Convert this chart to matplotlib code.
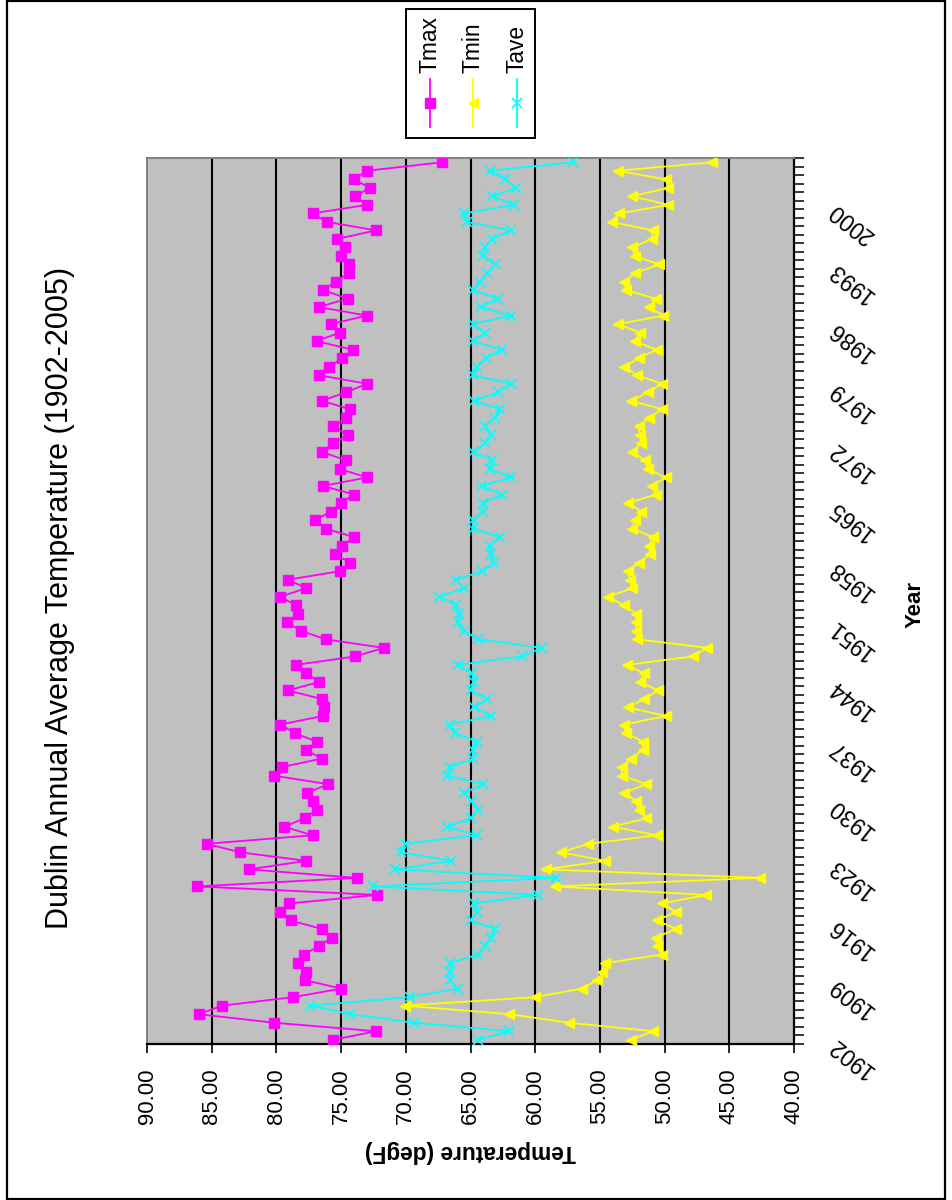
import matplotlib
matplotlib.use("Agg")
import matplotlib.pyplot as plt
from matplotlib import font_manager
from matplotlib.patches import Rectangle
from matplotlib.lines import Line2D
import matplotlib.transforms as mtransforms

# datos (1902-2005)
years = list(range(1902, 2006))

tmax = [75.6, 72.3, 80.2, 86.0, 84.2, 78.7, 75.0, 77.8, 77.7, 78.3,
        77.9, 76.7, 75.7, 76.5, 78.9, 79.7, 79.0, 72.2, 86.1, 73.8,
        82.1, 77.7, 82.8, 85.4, 77.2, 79.4, 77.8, 76.9, 77.2, 77.6,
        76.0, 80.2, 79.6, 76.5, 77.7, 76.9, 78.6, 79.7, 76.4, 76.3,
        76.5, 79.1, 76.7, 77.7, 78.5, 73.9, 71.7, 76.2, 78.1, 79.2,
        78.3, 78.5, 79.7, 77.7, 79.1, 75.1, 74.3, 75.5, 74.9, 74.0,
        76.2, 77.0, 75.8, 75.0, 74.0, 76.4, 73.0, 75.1, 74.6, 76.5,
        75.6, 74.5, 75.6, 74.6, 74.3, 76.5, 74.6, 73.0, 76.7, 75.9,
        74.9, 74.1, 76.9, 75.1, 75.8, 73.0, 76.7, 74.5, 76.4, 75.4,
        74.4, 74.4, 75.0, 74.7, 75.3, 72.3, 76.1, 77.2, 73.0, 73.9,
        72.8, 74.0, 73.0, 67.2]

tmin = [52.6, 50.9, 57.4, 62.0, 70.1, 60.0, 56.4, 55.2, 54.8, 54.6,
        50.2, 50.6, 50.7, 49.1, 50.6, 49.1, 50.2, 46.8, 58.5, 42.6,
        59.2, 54.6, 58.0, 55.9, 50.6, 54.0, 51.4, 52.0, 52.2, 53.1,
        51.4, 53.3, 53.3, 52.6, 51.7, 51.7, 53.0, 53.1, 49.9, 52.8,
        51.6, 50.5, 51.9, 51.6, 52.9, 47.8, 46.7, 52.1, 52.2, 52.2,
        52.2, 53.1, 54.4, 52.5, 52.7, 52.8, 52.0, 51.1, 51.2, 50.9,
        52.5, 52.3, 51.8, 52.8, 50.7, 51.0, 49.9, 51.3, 51.5, 52.5,
        51.8, 51.9, 52.0, 51.2, 50.2, 52.6, 51.3, 50.2, 52.1, 53.1,
        52.0, 50.6, 52.3, 51.9, 53.6, 50.1, 51.2, 50.7, 53.0, 53.1,
        52.3, 50.4, 52.3, 52.5, 51.0, 50.9, 54.1, 53.5, 49.7, 52.5,
        49.7, 49.9, 53.6, 46.3]

tave = [64.4, 62.0, 69.4, 74.3, 77.4, 69.7, 66.0, 66.6, 66.6, 66.6,
        64.4, 63.9, 63.4, 63.1, 65.0, 64.5, 64.7, 59.8, 72.5, 58.4,
        70.8, 66.5, 70.4, 70.1, 64.5, 66.8, 65.0, 64.4, 64.9, 65.5,
        64.0, 66.8, 66.6, 64.8, 64.8, 64.5, 66.2, 66.6, 63.4, 64.7,
        63.7, 65.0, 64.7, 64.9, 66.0, 61.0, 59.5, 64.4, 65.5, 66.0,
        65.9, 66.1, 67.4, 65.5, 66.1, 64.1, 63.2, 63.4, 63.5, 62.7,
        64.8, 64.8, 64.0, 64.0, 62.6, 64.1, 61.9, 63.5, 63.3, 64.8,
        63.9, 63.4, 63.9, 63.1, 62.7, 64.7, 62.9, 61.9, 64.8, 64.5,
        63.8, 62.6, 64.8, 63.9, 64.8, 61.9, 64.2, 62.9, 64.8, 64.3,
        63.7, 63.1, 64.0, 63.9, 63.3, 61.9, 65.3, 65.5, 61.6, 63.3,
        61.5, 62.3, 63.5, 57.1]

temp_ticks = [90, 85, 80, 75, 70, 65, 60, 55, 50, 45, 40]
label_years = list(range(1902, 2006, 7))
series_names = ["Tmax", "Tmin", "Tave"]
series_colors = ["#FF00FF", "#FFFF00", "#00FFFF"]
series_markers = ["s", "<", "x"]
series_ms = [7.0, 7.5, 7.0]

# fuente estrecha si existe (el original parece Arial Narrow)
nombres = {f.name for f in font_manager.fontManager.ttflist}
if "Liberation Sans Narrow" in nombres:
  fam_narrow, k = "Liberation Sans Narrow", 1.0
else:
  fam_narrow, k = "Liberation Sans", 0.82

W, H = 953, 1200
def fx(px):
  return px / W
def fy(py):
  return 1 - py / H

fig = plt.figure(figsize=(W / 100, H / 100), dpi=100)

# marco exterior
fig.add_artist(Rectangle((fx(7.5), fy(1199)), fx(945) - fx(7.5), fy(1) - fy(1199),
                         transform=fig.transFigure, fill=False, ec="black", lw=1.6))

# ejes: x = temperatura (invertida), y = anio  (grafico girado 90 grados)
L, R, T, B = 147, 794, 158, 1044
ax = fig.add_axes([fx(L), fy(B), fx(R) - fx(L), fy(T) - fy(B)])
ax.set_facecolor("#C0C0C0")
ax.set_xlim(90, 40)
ax.set_ylim(1901.5, 2005.5)

for v in temp_ticks[1:-1]:
  ax.axvline(v, color="black", lw=1.5, zorder=1)

datos = [tmax, tmin, tave]
for vals, col, mk, ms in zip(datos, series_colors, series_markers, series_ms):
  if mk == "x":
    ax.plot(vals, years, color=col, lw=1.3, marker=mk, ms=ms, mew=1.2, zorder=3)
  else:
    ax.plot(vals, years, color=col, lw=1.3, marker=mk, ms=ms, mec=col, zorder=3)

for s in ["left", "top"]:
  ax.spines[s].set_color("#808080")
  ax.spines[s].set_linewidth(1.4)
for s in ["bottom", "right"]:
  ax.spines[s].set_color("black")
  ax.spines[s].set_linewidth(1.6)

ax.set_xticks(temp_ticks)
ax.set_xticklabels([f"{v:.2f}" for v in temp_ticks], rotation=90,
                   family=fam_narrow, fontsize=19.5 * k)
ax.tick_params(axis="x", direction="out", length=6.5, width=1.2, pad=11)

ax.yaxis.tick_right()
ax.set_yticks([])
ax.set_yticks([y - 0.5 for y in years] + [years[-1] + 0.5], minor=True)
ax.tick_params(axis="y", which="minor", direction="out", length=7.5, width=1.1,
               right=True, left=False)

trans = mtransforms.blended_transform_factory(ax.transAxes, ax.transData)
for yr in label_years:
  ax.text(1.058, yr - 0.25, str(yr), transform=trans, rotation=142,
          rotation_mode="anchor", ha="right", va="center",
          family=fam_narrow, fontsize=20 * k, clip_on=False)

# textos
fig.text(fx(60), fy(598), "Dublin Annual Average Temperature (1902-2005)",
         rotation=90, ha="center", va="center", family="Liberation Sans", fontsize=22)
fig.text(fx(470), fy(1152), "Temperature (degF)", rotation=180, ha="center", va="center",
         family=fam_narrow, fontsize=20 * k, fontweight="bold")
fig.text(fx(915), fy(605), "Year", rotation=90, ha="center", va="center",
         family=fam_narrow, fontsize=19.5 * k, fontweight="bold")

# leyenda dibujada a mano (girada)
lx0, ly0, lx1, ly1 = 406, 9, 535, 138
fig.add_artist(Rectangle((fx(lx0), fy(ly1)), fx(lx1) - fx(lx0), fy(ly0) - fy(ly1),
                         transform=fig.transFigure, fc="white", ec="black", lw=1.4))
for cx, nombre, col, mk, ms in zip([430, 473, 517], series_names, series_colors,
                                   series_markers, series_ms):
  fig.add_artist(Line2D([fx(cx), fx(cx)], [fy(79), fy(127)], transform=fig.transFigure,
                        color=col, lw=1.3))
  if mk == "x":
    fig.add_artist(Line2D([fx(cx)], [fy(103)], transform=fig.transFigure, color=col,
                          marker=mk, ms=ms, mew=1.2, lw=0))
  else:
    fig.add_artist(Line2D([fx(cx)], [fy(103)], transform=fig.transFigure, color=col,
                          marker=mk, ms=ms, mec=col, lw=0))
  fig.text(fx(cx), fy(73), nombre, rotation=90, ha="center", va="bottom",
           family=fam_narrow, fontsize=20 * k)

fig.savefig("out.png", dpi=100)
